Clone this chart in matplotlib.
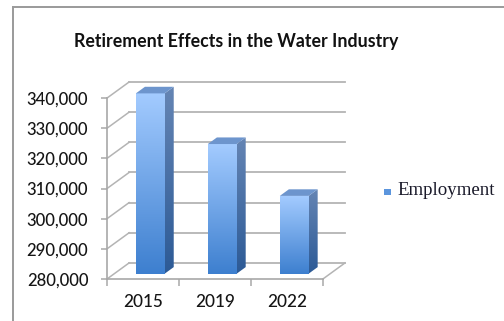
import numpy as np
import matplotlib
matplotlib.use("Agg")
import matplotlib.pyplot as plt
from matplotlib.patches import Polygon
from matplotlib.lines import Line2D
from matplotlib.colors import LinearSegmentedColormap

# Data
years = ["2015", "2019", "2022"]
employment = [339800, 323000, 305800]
y_ticks = [280000, 290000, 300000, 310000, 320000, 330000, 340000]
series_name = "Employment"
title_text = "Retirement Effects in the Water Industry"

# Oblique projection of the depth axis (in data units)
BASE = 280000
DEPTH_X = 0.307          # category units
DEPTH_Y = 5333           # value units
BAR_D0, BAR_D1 = 0.33, 0.74   # bar front/back positions along depth
BAR_W = 0.40

fig = plt.figure(figsize=(5.04, 3.21), dpi=100)
fig.patch.set_facecolor("white")

# Outer chart frame (top and left edges)
fig.add_artist(Line2D([12.5 / 504, 12.5 / 504], [0, 1 - 6.5 / 321],
                      transform=fig.transFigure, color="#9a9a9a", lw=1.4))
fig.add_artist(Line2D([12.5 / 504, 1], [1 - 6.5 / 321, 1 - 6.5 / 321],
                      transform=fig.transFigure, color="#9a9a9a", lw=1.4))

ax = fig.add_axes([107 / 504, 1 - 279 / 321, 238 / 504, 197 / 321])
ax.set_facecolor("none")
ncat = len(years)

grid_c = "#b4b4b4"
# Back wall gridlines and side-wall diagonals
for v in y_ticks:
    ax.plot([DEPTH_X, ncat + DEPTH_X], [v + DEPTH_Y, v + DEPTH_Y],
            color=grid_c, lw=1.3, zorder=1, clip_on=False)
    ax.plot([0, DEPTH_X], [v, v + DEPTH_Y], color=grid_c, lw=1.1,
            zorder=1, clip_on=False)
# Floor right edge
ax.plot([ncat, ncat + DEPTH_X], [BASE, BASE + DEPTH_Y], color=grid_c,
        lw=1.1, zorder=1, clip_on=False)

# Bars with gradient front, darker side and top faces
front_cmap = LinearSegmentedColormap.from_list("front", ["#3d7fcf", "#a3cbff"])
side_cmap = LinearSegmentedColormap.from_list("side", ["#2c5a96", "#6585b4"])
grad = np.linspace(0, 1, 256).reshape(-1, 1)

for i, val in enumerate(employment):
    cx = i + 0.5
    ox0, oy0 = BAR_D0 * DEPTH_X, BAR_D0 * DEPTH_Y
    ox1, oy1 = BAR_D1 * DEPTH_X, BAR_D1 * DEPTH_Y
    x0 = cx - BAR_W / 2 + ox0
    x1 = cx + BAR_W / 2 + ox0
    yb = BASE + oy0
    yt = val + oy0
    # front face
    bars = ax.bar(x0, yt - yb, width=x1 - x0, bottom=yb, align="edge",
                  color="none", edgecolor="none", zorder=3)
    im = ax.imshow(grad, cmap=front_cmap, origin="lower", aspect="auto",
                   extent=(x0, x1, yb, yt), zorder=3, interpolation="bilinear")
    im.set_clip_path(bars.patches[0])
    # side face
    dx, dy = ox1 - ox0, oy1 - oy0
    side = Polygon([(x1, yb), (x1 + dx, yb + dy), (x1 + dx, yt + dy), (x1, yt)],
                   closed=True, facecolor="none", edgecolor="none", zorder=3)
    ax.add_patch(side)
    im2 = ax.imshow(grad, cmap=side_cmap, origin="lower", aspect="auto",
                    extent=(x1, x1 + dx, yb, yt + dy), zorder=3,
                    interpolation="bilinear")
    im2.set_clip_path(side)
    # top face
    top = Polygon([(x0, yt), (x1, yt), (x1 + dx, yt + dy), (x0 + dx, yt + dy)],
                  closed=True, facecolor="#6d95cd", edgecolor="none", zorder=4)
    ax.add_patch(top)

ax.set_xlim(0, ncat + DEPTH_X)
ax.set_ylim(BASE, y_ticks[-1] + DEPTH_Y)

# Front axes
for s in ["top", "right"]:
    ax.spines[s].set_visible(False)
ax.spines["left"].set_bounds(y_ticks[0], y_ticks[-1])
ax.spines["bottom"].set_bounds(0, ncat)
for s in ["left", "bottom"]:
    ax.spines[s].set_color("#a8a8a8")
    ax.spines[s].set_linewidth(1.2)

label_font = ["Lato", "DejaVu Sans"]
ax.set_yticks(y_ticks)
ax.set_yticklabels([f"{v:,}" for v in y_ticks], fontsize=12,
                   family=label_font, color="#151515", fontweight="medium")
ax.tick_params(axis="y", direction="out", length=4, width=1.1,
               color="#a8a8a8", pad=9.5)
ax.set_xticks(np.arange(ncat) + 0.5)
ax.set_xticklabels(years, fontsize=12.3, family=label_font, color="#151515",
                   fontweight="medium")
ax.set_xticks(np.arange(ncat + 1), minor=True)
ax.tick_params(axis="x", which="major", length=0, pad=11)
ax.tick_params(axis="x", which="minor", direction="out", length=5,
               width=1.1, color="#a8a8a8")

fig.text(236.5 / 504, 1 - 42 / 321, title_text, ha="center", va="center",
         fontsize=12.8, fontweight="bold", family=label_font, color="#111111")

# Legend
fig.patches.append(plt.Rectangle((384 / 504, 1 - 195 / 321), 6.5 / 504,
                                 6.5 / 321, transform=fig.transFigure,
                                 facecolor="#5b95dd", edgecolor="none"))
fig.text(397.5 / 504, 1 - 190.5 / 321, series_name, ha="left", va="center",
         fontsize=13.6, family=["Liberation Serif", "DejaVu Serif"],
         color="#1a1a2a")

fig.savefig("out.png", dpi=100, facecolor="white")
